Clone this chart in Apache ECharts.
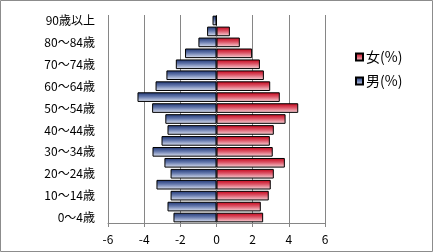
<!DOCTYPE html>
<html>
<head>
<meta charset="utf-8">
<script src="https://cdn.jsdelivr.net/npm/echarts@6/dist/echarts.min.js"></script>
<style>
html,body{margin:0;padding:0;background:#fff;}
#c{width:433px;height:252px;}
</style>
</head>
<body>
<div id="c"></div>
<script>
var categories = ['0～4歳','5～9歳','10～14歳','15～19歳','20～24歳','25～29歳','30～34歳','35～39歳','40～44歳','45～49歳','50～54歳','55～59歳','60～64歳','65～69歳','70～74歳','75～79歳','80～84歳','85～89歳','90歳以上'];
var maleValues = [2.38,2.71,2.54,3.32,2.54,2.88,3.54,3.04,2.71,2.83,3.56,4.37,3.37,2.77,2.25,1.74,1.0,0.52,0.22];
var femaleValues = [2.58,2.45,2.89,3.0,3.17,3.78,3.11,2.95,3.17,3.82,4.52,3.5,2.97,2.62,2.4,1.97,1.29,0.74,0];
var xTicks = [-6,-4,-2,0,2,4,6];
var seriesNames = ['女(%)','男(%)'];

var chart = echarts.init(document.getElementById('c'), null, {renderer:'canvas'});
var blueGrad = new echarts.graphic.LinearGradient(0,0,0,1,[
  {offset:0,color:'#1c3270'},{offset:0.45,color:'#6579ad'},{offset:1,color:'#e2e7f4'}]);
var redGrad = new echarts.graphic.LinearGradient(0,0,0,1,[
  {offset:0,color:'#c20016'},{offset:0.45,color:'#dc5466'},{offset:1,color:'#f8dade'}]);
var font = '"Noto Sans CJK JP", "Noto Sans", sans-serif';
chart.setOption({
  animation:false,
  textStyle:{fontFamily:font},
  graphic:[{type:'rect',shape:{x:0.5,y:0.5,width:432,height:251},style:{fill:'none',stroke:'#8c8c8c',lineWidth:1},silent:true}],
  grid:{left:108,right:108,top:15,bottom:29,containLabel:false},
  legend:{
    data:seriesNames, orient:'vertical', left:350, top:45, itemWidth:7, itemHeight:7, itemGap:10, icon:'rect',
    textStyle:{fontSize:14,color:'#000',fontFamily:font,padding:[0,0,0,-2]}
  },
  xAxis:{
    type:'value', min:xTicks[0], max:xTicks[xTicks.length-1], interval:2,
    axisLine:{show:true,lineStyle:{color:'#868686'}},
    axisTick:{show:true,length:4,lineStyle:{color:'#868686'}},
    axisLabel:{fontSize:12,color:'#000',margin:10,fontFamily:font},
    splitLine:{show:true,lineStyle:{color:'#868686',width:1}}
  },
  yAxis:{
    type:'category', data:categories,
    axisLine:{show:false}, axisTick:{show:false},
    axisLabel:{interval:1,fontSize:12,color:'#000',margin:13,fontFamily:font}
  },
  series:[
    {name:seriesNames[0],type:'bar',data:femaleValues,barGap:'-100%',barCategoryGap:'12%',
     itemStyle:{color:redGrad,borderColor:'#000',borderWidth:1}},
    {name:seriesNames[1],type:'bar',data:maleValues.map(function(v){return -v;}),barGap:'-100%',barCategoryGap:'12%',
     itemStyle:{color:blueGrad,borderColor:'#000',borderWidth:1}}
  ]
});
</script>
</body>
</html>
